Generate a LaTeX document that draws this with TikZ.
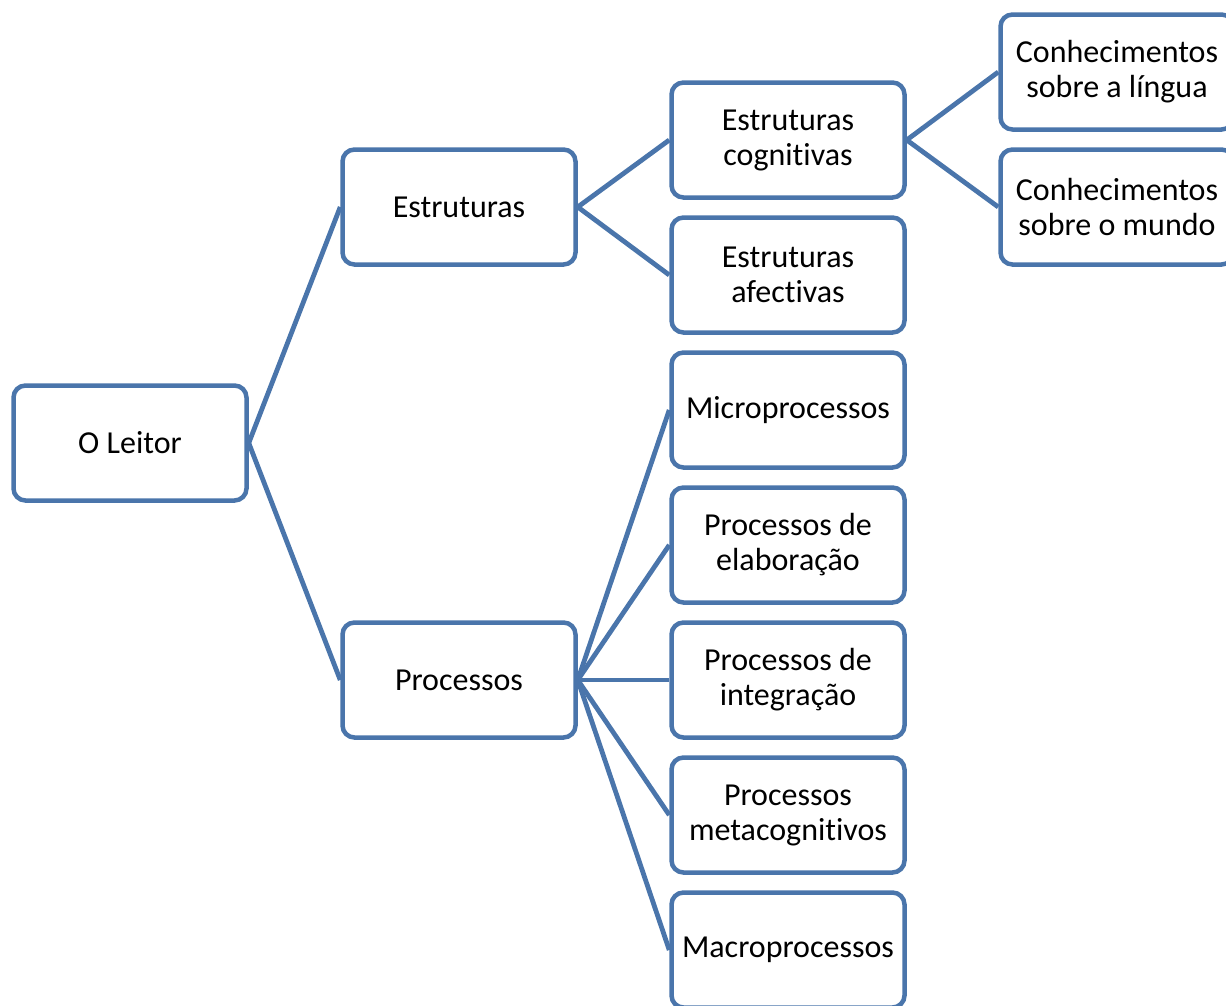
\documentclass[tikz,border=0pt]{standalone}
\usepackage{fontspec}
\setmainfont[Ligatures=NoCommon]{Carlito}
\definecolor{boxblue}{HTML}{4A75AB}
\tikzset{
  box/.style={draw=boxblue, fill=white, line width=4.5pt, rounded corners=12pt,
    minimum width=233pt, minimum height=115pt, inner sep=0pt, align=center,
    font=\fontsize{32}{35}\selectfont},
  link/.style={draw=boxblue, line width=4.8pt}
}
\begin{document}
\begin{tikzpicture}[x=1pt, y=-1pt]
\useasboundingbox (0,0) rectangle (1226,1005);
% root
\node[box] (leitor) at (130,443) {O Leitor};
% level 1
\node[box] (estr) at (459,207) {Estruturas};
\node[box] (proc) at (459,680) {Processos};
% level 2: structures
\node[box] (cogn) at (788,140) {Estruturas\\cognitivas};
\node[box] (afec) at (788,275) {Estruturas\\afectivas};
% level 2: processes
\node[box] (micro) at (788,410) {Microprocessos};
\node[box] (elab) at (788,545) {Processos de\\elaboração};
\node[box] (integ) at (788,680) {Processos de\\integração};
\node[box] (meta) at (788,815) {Processos\\metacognitivos};
\node[box] (macro) at (788,950) {Macroprocessos};
% level 3: knowledge
\node[box] (lingua) at (1117,72) {Conhecimentos\\sobre a língua};
\node[box] (mundo) at (1117,207) {Conhecimentos\\sobre o mundo};
% connectors, from each parent's right side to its children's left sides
\draw[link] (leitor.east) -- (estr.west);
\draw[link] (leitor.east) -- (proc.west);
\draw[link] (estr.east) -- (cogn.west);
\draw[link] (estr.east) -- (afec.west);
\draw[link] (cogn.east) -- (lingua.west);
\draw[link] (cogn.east) -- (mundo.west);
\foreach \c in {micro,elab,integ,meta,macro}
  \draw[link] (proc.east) -- (\c.west);
\end{tikzpicture}
\end{document}
